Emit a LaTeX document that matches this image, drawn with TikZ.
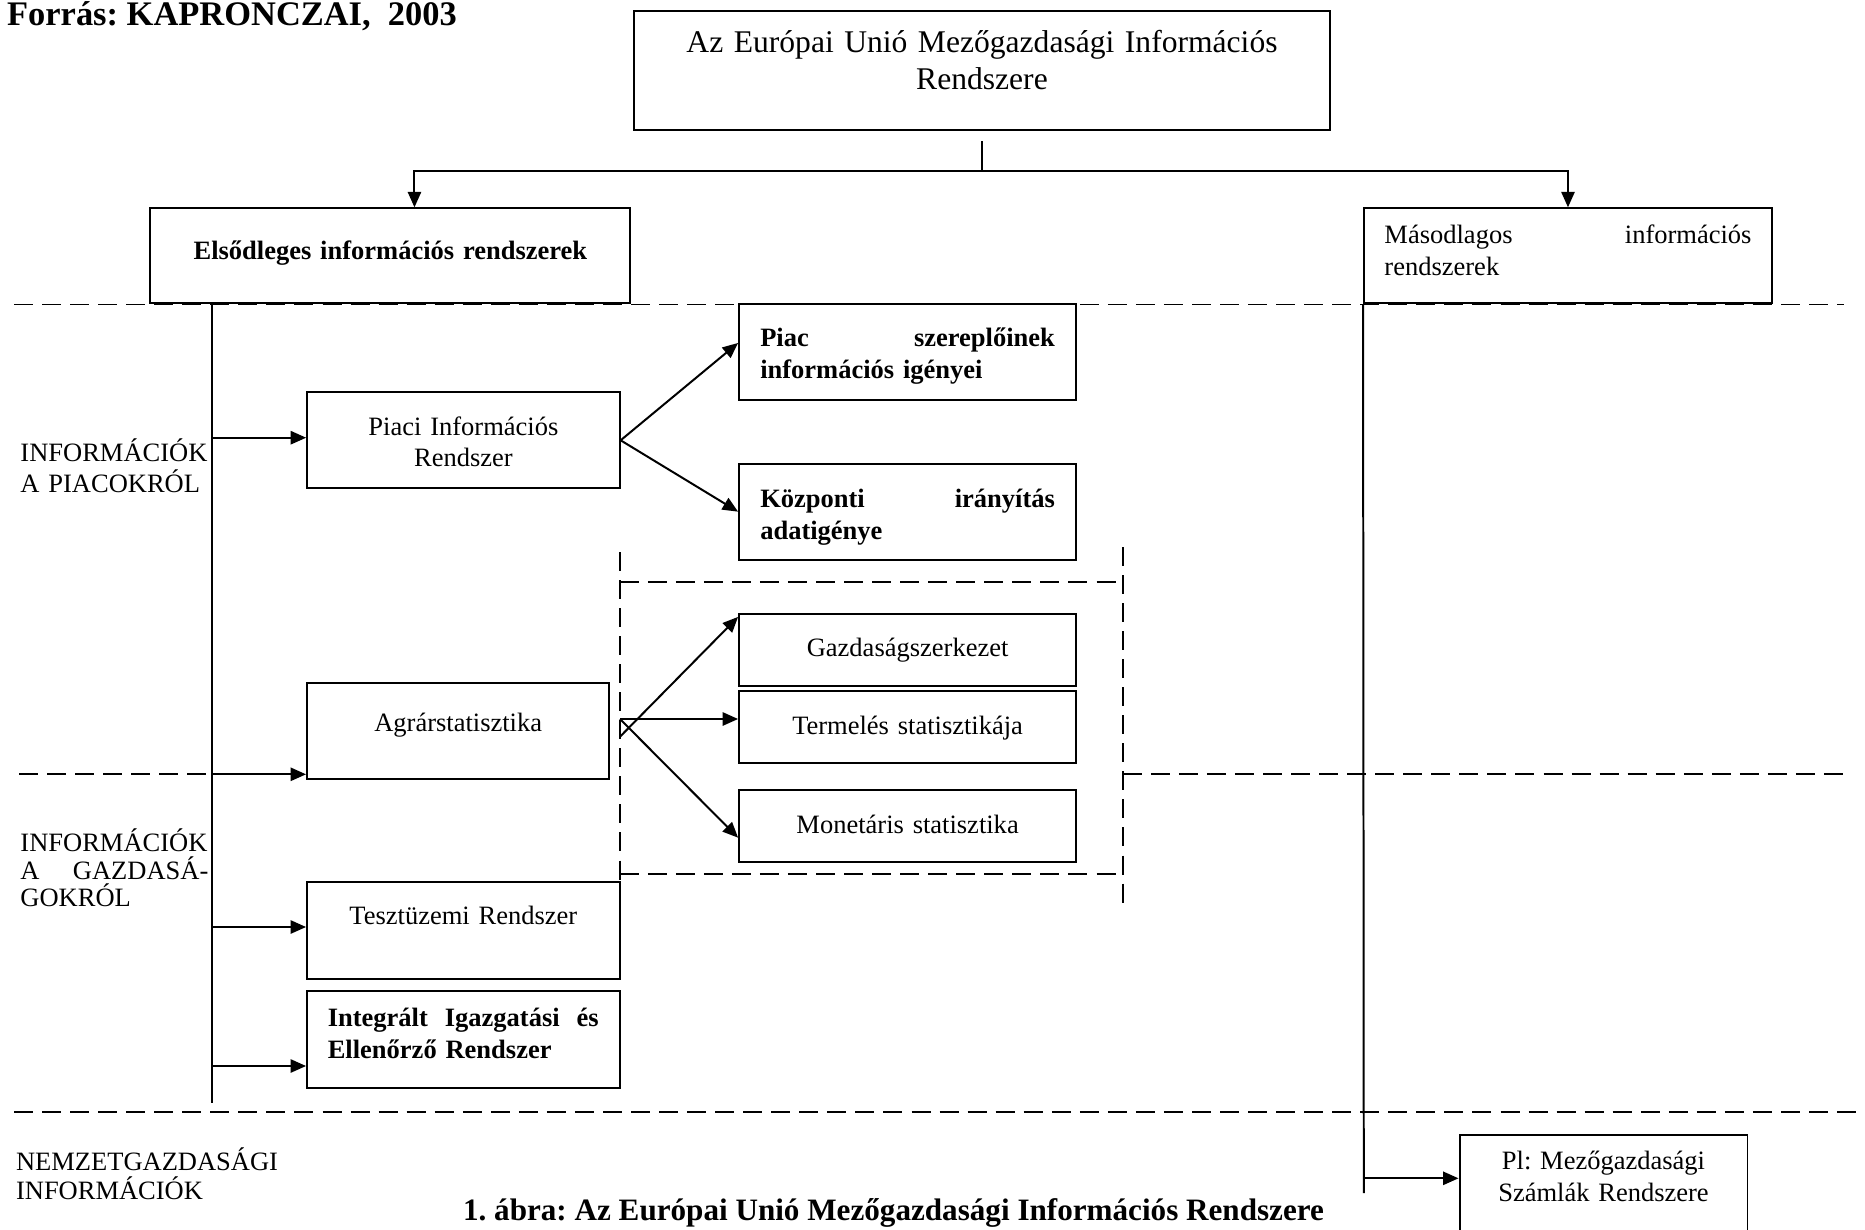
\documentclass[tikz,border=0pt]{standalone}
\usepackage{fontspec}
\setmainfont{Liberation Serif}
\usetikzlibrary{arrows.meta}
\frenchspacing
\newcommand\boxfont{\fontsize{12}{14.35}\selectfont}
\newcommand\spreadgap{\hskip 0pt plus 1filll\relax}
\tikzset{
  bx/.style = {draw=black, line width=0.9pt, rectangle, inner sep=0pt, align=center, font=\boxfont},
  bxj/.style = {bx, align=left},
  bfont/.style = {font=\boxfont\bfseries},
  lbl/.style = {inner sep=0pt, anchor=base west, align=left, font=\boxfont},
  conn/.style = {line width=0.9pt},
  arr/.style = {conn, -{Triangle[length=7pt,width=6pt]}},
  divider/.style = {line width=0.8pt, dash pattern=on 8.6pt off 4.1pt},
}

\begin{document}
\begin{tikzpicture}[x=0.4528pt, y=-0.4528pt]
  \useasboundingbox (0,0) rectangle (1865,1230);
  \clip (0,0) rectangle (1865,1230);

  \node [lbl, font=\fontsize{15.6}{18}\selectfont\bfseries] (forras) at (6.7,25) {Forrás: KAPRONCZAI,\ \ 2003};

  \node [bx, font=\fontsize{14.3}{17}\selectfont, minimum width=315.2pt, minimum height=54pt,
         text width=296pt, text height=0pt, text depth=16.2pt] (eu) at (982,70.3)
        {Az Európai Unió Mezőgazdasági Információs\\Rendszere};
  \node [bx, bfont, minimum width=217.3pt, minimum height=43pt, text width=198pt,
         text height=3.2pt, text depth=0pt] (elso) at (390.4,255.8) {Elsődleges információs rendszerek};
  \node [bxj, minimum width=184.7pt, minimum height=43pt, text width=166.2pt,
         text height=0pt, text depth=11.3pt] (masod) at (1568,255.8) {Másodlagos\spreadgap információs\\rendszerek};

  \node [bx, minimum width=141.5pt, minimum height=43.5pt, text width=125pt,
         text height=0pt, text depth=4.8pt] (piaci) at (463.4,440.3) {Piaci Információs\\Rendszer};
  \node [bxj, bfont, minimum width=152.6pt, minimum height=43.5pt, text width=133.4pt,
         text height=0pt, text depth=4.8pt] (piac) at (907.6,352) {Piac\spreadgap szereplőinek\\információs igényei};
  \node [bxj, bfont, minimum width=152.6pt, minimum height=43.5pt, text width=133.4pt,
         text height=0pt, text depth=3.4pt] (kozp) at (907.6,511.7) {Központi\spreadgap irányítás\\adatigénye};

  \node [bx, minimum width=152.6pt, minimum height=32.5pt, text width=133.4pt,
         text height=6.2pt, text depth=0pt] (gazd) at (907.6,649.8) {Gazdaságszerkezet};
  \node [bx, minimum width=152.6pt, minimum height=32.5pt, text width=133.4pt,
         text height=7.4pt, text depth=0pt] (term) at (907.6,726.8) {Termelés statisztikája};
  \node [bx, minimum width=152.6pt, minimum height=32.7pt, text width=133.4pt,
         text height=6.4pt, text depth=0pt] (monet) at (907.6,826.2) {Monetáris statisztika};

  \node [bx, minimum width=136.9pt, minimum height=43.6pt, text width=118pt,
         text height=0.8pt, text depth=0pt] (agrar) at (458.2,730.8) {Agrárstatisztika};
  \node [bx, minimum width=141.5pt, minimum height=43.9pt, text width=125pt,
         text height=0pt, text depth=5pt] (teszt) at (463.3,930.5) {Tesztüzemi Rendszer};
  \node [bxj, bfont, minimum width=141.5pt, minimum height=43.8pt, text width=122.7pt,
         text height=0pt, text depth=11.4pt] (integ) at (463.3,1039.3) {Integrált\spreadgap Igazgatási\spreadgap és\\Ellenőrző Rendszer};
  \node [bx, minimum width=130.4pt, minimum height=43.5pt, text width=115pt,
         text height=0pt, text depth=11.8pt] (pl) at (1603.5,1183) {Pl: Mezőgazdasági\\Számlák Rendszere};

  \node [lbl, text width=86pt, font=\fontsize{12}{14}\selectfont] (piacinfo) at (20,461.7) {INFORMÁCIÓK\\A PIACOKRÓL};
  \node [lbl, text width=85.1pt, font=\fontsize{12}{12.45}\selectfont] (gazdinfo) at (20,851.7) {INFORMÁCIÓK\\A\spreadgap GAZDASÁ-\\GOKRÓL};
  \node [lbl, text width=125pt, font=\fontsize{12}{13.3}\selectfont] (nemzinfo) at (15.6,1170) {NEMZETGAZDASÁGI\\INFORMÁCIÓK};
  \node [inner sep=0pt, anchor=base, font=\fontsize{14.1}{16}\selectfont\bfseries] (abra) at (893.5,1220)
        {1. ábra: Az Európai Unió Mezőgazdasági Információs Rendszere};

  \draw [divider] (14,304.5) -- (1844,304.5);
  \draw [divider] (19,774.3) -- (211.7,774.3);
  \draw [divider] (1122.8,774.3) -- (1843.6,774.3);
  \draw [divider] (14,1111.7) -- (1860,1111.7);
  \draw [divider] (619.7,552) -- (619.7,881);
  \draw [divider] (1122.8,547) -- (1122.8,908);
  \draw [divider] (619.7,581.7) -- (1122.8,581.7);
  \draw [divider] (619.7,874.2) -- (1122.8,874.2);

  \coordinate (stem) at (982.2,141);
  \coordinate (fork) at (982.2,170.7);
  \draw [conn] (stem) -- (fork);
  \draw [arr] (fork) -| ([xshift=10.9pt]elso.north);
  \draw [arr] (fork) -| (masod.north);

  \coordinate (sptop) at (211.7,303.3);
  \coordinate (spbot) at (211.7,1103);
  \coordinate (s1) at (211.7,437.7);
  \coordinate (s2) at (211.7,774.3);
  \coordinate (s3) at (211.7,927);
  \coordinate (s4) at (211.7,1066);
  \draw [conn] (sptop) -- (spbot);
  \draw [arr] (s1) -- (s1 -| piaci.west);
  \draw [arr] (s2) -- (s2 -| agrar.west);
  \draw [arr] (s3) -- (s3 -| teszt.west);
  \draw [arr] (s4) -- (s4 -| integ.west);

  \draw [arr] (piaci.east) -- ([yshift=4.1pt]piac.west);
  \draw [arr] (piaci.east) -- (kozp.west);

  \coordinate (a1) at (620,719);
  \coordinate (a2) at (620,736.7);
  \draw [arr] (a1) -- (a1 -| term.west);
  \draw [arr] (a2) -- ([yshift=-1.8pt]gazd.north west);
  \draw [arr] (a1) -- ([yshift=-5.2pt]monet.west);

  \coordinate (mbot) at (1363.8,1193);
  \coordinate (m1) at (1363.8,1178.3);
  \draw [conn] (masod.south west) -- (mbot);
  \draw [arr] (m1) -- (m1 -| pl.west);
\end{tikzpicture}
\end{document}
